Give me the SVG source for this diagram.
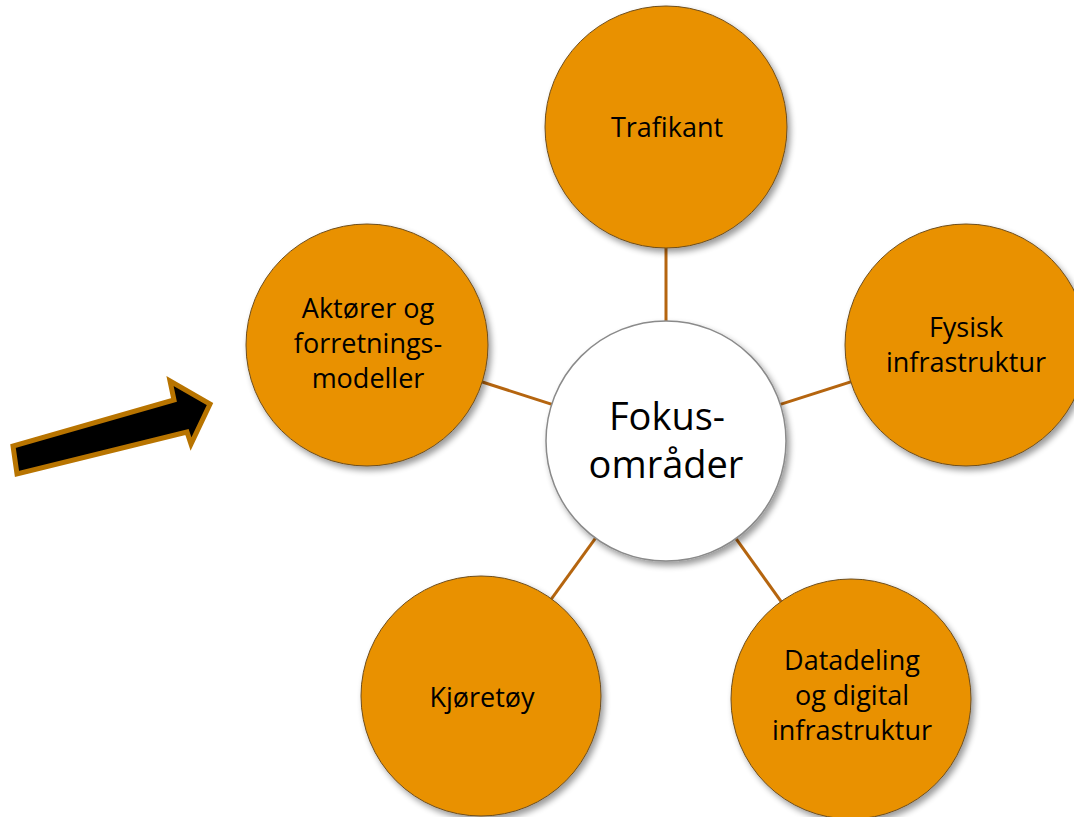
<svg xmlns="http://www.w3.org/2000/svg" width="1074" height="817" viewBox="0 0 1074 817">
<defs>
<filter id="sh" x="-20%" y="-20%" width="140%" height="140%">
<feGaussianBlur in="SourceAlpha" stdDeviation="3"/>
<feOffset dx="3" dy="4" result="b"/>
<feComponentTransfer><feFuncA type="linear" slope="0.4"/></feComponentTransfer>
<feMerge><feMergeNode/><feMergeNode in="SourceGraphic"/></feMerge>
</filter>
</defs>
<style>
.outer{fill:#E99100;stroke:#6E4E1E;stroke-width:1;filter:url(#sh)}
.hub{fill:#FFFFFF;stroke:#8A8A8A;stroke-width:1.5;filter:url(#sh)}
.lbl{font-family:"Open Sans","Liberation Sans",sans-serif;font-size:27px;fill:#000;text-anchor:middle}
.big{font-family:"Open Sans","Liberation Sans",sans-serif;font-size:38px;fill:#000;text-anchor:middle}
.con{stroke:#B5650F;stroke-width:3;fill:none}
</style>
<rect width="1074" height="817" fill="#FFFFFF"/>
<g id="connectors">
<line class="con" x1="666" y1="441" x2="666" y2="127"/>
<line class="con" x1="666" y1="441" x2="966" y2="345"/>
<line class="con" x1="666" y1="441" x2="367" y2="345"/>
<line class="con" x1="666" y1="441" x2="481" y2="696"/>
<line class="con" x1="666" y1="441" x2="851" y2="699"/>
</g>
<g id="arrow">
<polygon points="13,446 17,474 187,432 191,444 210,404 170,381 174,400" fill="#000000" stroke="#B87400" stroke-width="5" stroke-linejoin="miter"/>
</g>
<g id="trafikant">
<circle class="outer" cx="666" cy="127" r="121"/>
<text class="lbl" x="667" y="137">Trafikant</text>
</g>
<g id="fysisk">
<circle class="outer" cx="966" cy="345" r="121"/>
<text class="lbl" x="966" y="337">Fysisk</text>
<text class="lbl" x="966" y="372">infrastruktur</text>
</g>
<g id="aktorer">
<circle class="outer" cx="367" cy="345" r="121"/>
<text class="lbl" x="368" y="318">Aktører og</text>
<text class="lbl" x="368" y="353">forretnings-</text>
<text class="lbl" x="368" y="388">modeller</text>
</g>
<g id="kjoretoy">
<circle class="outer" cx="481" cy="696" r="120"/>
<text class="lbl" x="482" y="707">Kjøretøy</text>
</g>
<g id="datadeling">
<circle class="outer" cx="851" cy="699" r="120"/>
<text class="lbl" x="852" y="670">Datadeling</text>
<text class="lbl" x="852" y="705">og digital</text>
<text class="lbl" x="852" y="740">infrastruktur</text>
</g>
<g id="fokus">
<circle class="hub" cx="666" cy="441" r="120"/>
<text class="big" x="667" y="430">Fokus-</text>
<text class="big" x="666" y="478">områder</text>
</g>
</svg>
